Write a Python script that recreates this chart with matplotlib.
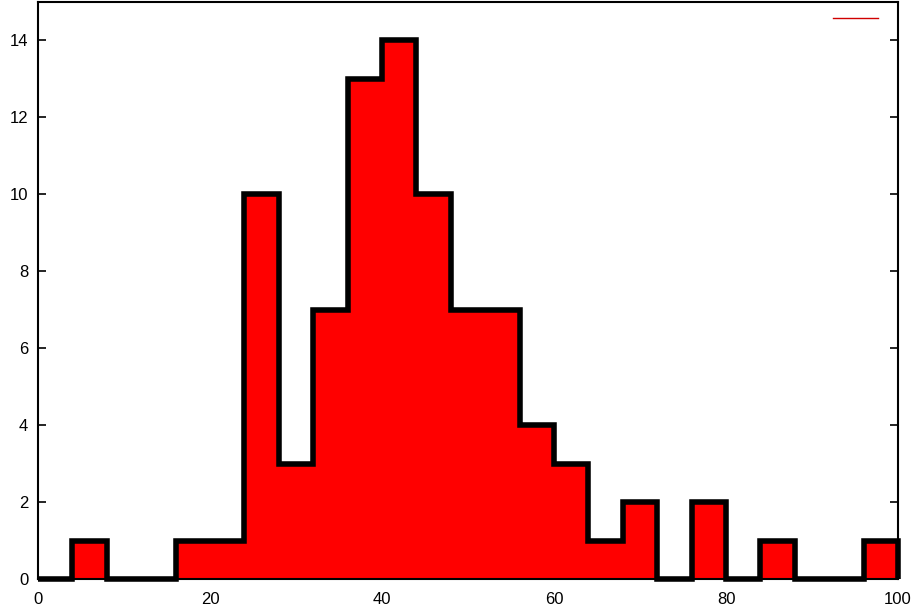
import matplotlib
matplotlib.use('Agg')
import matplotlib.pyplot as plt
import numpy as np

bin_edges = list(range(0, 104, 4))
counts = [0, 1, 0, 0, 1, 1, 10, 3, 7, 13, 14, 10, 7, 7, 4, 3, 1, 2, 0, 2, 0, 1, 0, 0, 1]
x_ticks = [0, 20, 40, 60, 80, 100]
y_ticks = [0, 2, 4, 6, 8, 10, 12, 14]


def main():
    plt.rcParams['font.family'] = ['Liberation Sans', 'DejaVu Sans']
    fig = plt.figure(figsize=(9.18, 6.12), dpi=100)
    ax = fig.add_axes([38 / 918, 33 / 612, 860 / 918, 577 / 612])

    edges = np.array(bin_edges)
    vals = np.array(counts)
    ax.stairs(vals, edges, fill=True, color='#ff0000', zorder=2)
    ax.stairs(vals, edges, baseline=0, color='black', linewidth=4,
              zorder=3, clip_on=False)

    # empty legend entry like gnuplot's
    ax.plot([], [], color='#d00000', linewidth=1, label=' ')
    ax.legend(loc='upper right', frameon=False, handlelength=3.3,
              bbox_to_anchor=(1.006, 1.0), borderaxespad=0.3)

    ax.set_xlim(0, 100)
    ax.set_ylim(0, 15)
    ax.set_xticks(x_ticks)
    ax.set_yticks(y_ticks)
    ax.tick_params(axis='x', length=0, labelsize=12, pad=9)
    ax.tick_params(axis='y', direction='in', length=6, width=1.2,
                   right=True, labelsize=12, pad=7)
    for s in ax.spines.values():
        s.set_linewidth(1.5)

    fig.savefig('out.png', dpi=100)


if __name__ == '__main__':
    main()
